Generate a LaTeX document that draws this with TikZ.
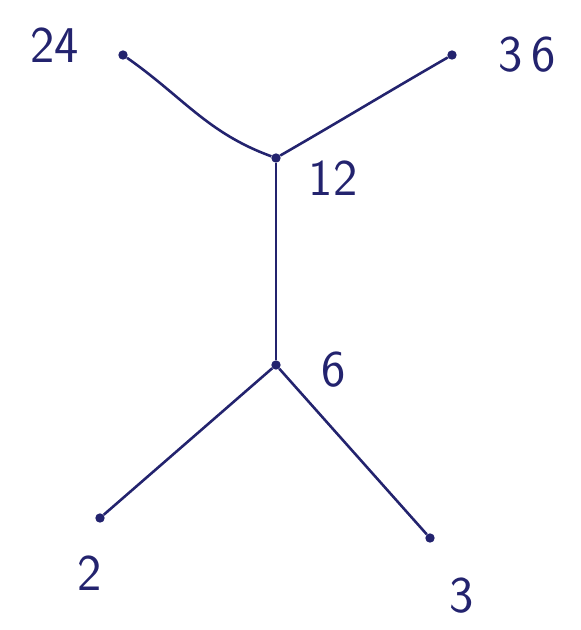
\documentclass[tikz,border=0pt]{standalone}
\usepackage{fontspec}
\setmainfont{DejaVu Sans}
\definecolor{ink}{RGB}{35,35,110}
\begin{document}
\begin{tikzpicture}[x=0.03cm,y=-0.03cm,
  dot/.style={circle,fill=ink,inner sep=0pt,minimum size=8pt},
  lbl/.style={text=ink,font=\fontsize{44}{44}\selectfont\sffamily},
  edge/.style={draw=ink,line width=2.2pt}]
\useasboundingbox (0,0) rectangle (581,630);
\node[dot] (n24) at (123,55) {};
\node[dot] (n36) at (452,55) {};
\node[dot] (n12) at (276,158) {};
\node[dot] (n6) at (276,365) {};
\node[dot] (n2) at (100,518) {};
\node[dot] (n3) at (430,538) {};
\node[lbl] (l24) at (55,45) {24};
\node[lbl] (l36) at (527,55) {3\,6};
\node[lbl] (l12) at (333,178) {12};
\node[lbl] (l6) at (334,370) {6};
\node[lbl] (l2) at (90,573) {2};
\node[lbl] (l3) at (462,596) {3};
\draw[edge] (n24) to[out=-35,in=160] (n12);
\draw[edge] (n36) to[out=-150,in=30] (n12);
\draw[edge] (n12) -- (n6);
\draw[edge] (n6) -- (n2);
\draw[edge] (n6) -- (n3);
\end{tikzpicture}
\end{document}
